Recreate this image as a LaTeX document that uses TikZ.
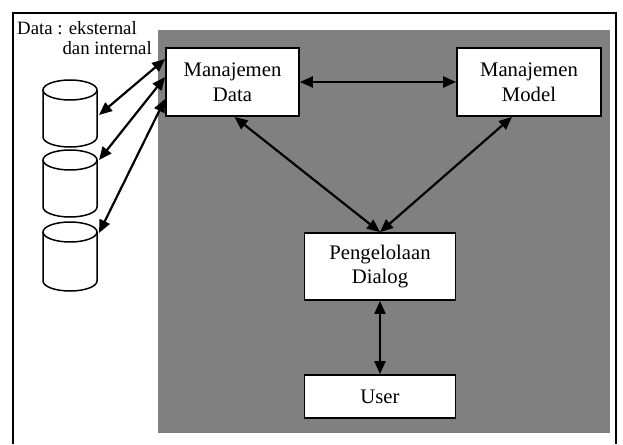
\documentclass[tikz,border=0pt]{standalone}
\usepackage{fontspec}
\setmainfont{Liberation Serif}
\usetikzlibrary{arrows.meta,calc}
\definecolor{bggray}{RGB}{128,128,128}
\tikzset{
  box/.style={draw=black, line width=1.8pt, fill=white, align=center,
    inner sep=0pt, font=\fontsize{20.7}{24.5}\selectfont},
  link/.style={line width=2.2pt, {Triangle[length=13pt,width=11pt]}-{Triangle[length=13pt,width=11pt]}},
  cyl/.style={draw=black, line width=1.5pt, fill=white},
  lbl/.style={inner sep=0pt, font=\fontsize{18.8}{22}\selectfont}
}
\begin{document}
\begin{tikzpicture}[x=1pt,y=-1pt]
\useasboundingbox (0,0) rectangle (623,444);
\draw[line width=2pt] (13,444) -- (13,13) -- (616,13) -- (616,444);
\fill[bggray] (158,30) rectangle (610,433);

\node[lbl, anchor=base west] (l1) at (17,35) {Data : eksternal};
\node[lbl, anchor=base east] (l2) at (152,55) {dan internal};

% cylinders
\foreach \t/\b in {80/147, 150/217, 222/291}{
  \draw[cyl] (43,\t+10) -- (43,\b-10) arc[start angle=180, end angle=0, x radius=27, y radius=10] -- (97,\t+10);
  \draw[cyl] (70,\t+10) ellipse[x radius=27, y radius=10];
}
\coordinate (c1) at (99,115);
\coordinate (c2) at (99,160);
\coordinate (c3) at (99,233);

\node[box, minimum width=133pt, minimum height=68pt] (data) at (232.5,82) {Manajemen\\Data};
\node[box, minimum width=144pt, minimum height=68pt] (model) at (529,82) {Manajemen\\Model};
\node[box, minimum width=151pt, minimum height=67pt] (dialog) at (380,266.5) {Pengelolaan\\Dialog};
\node[box, minimum width=151pt, minimum height=43pt] (user) at (380,396.5) {User};

\draw[link] (data.east) -- (model.west);
\draw[link] ($(data.south)+(2,0)$) -- (dialog.north);
\draw[link] ($(model.south)+(-17,0)$) -- (dialog.north);
\draw[link] (dialog.south) -- (user.north);

\draw[link] ($(data.west)+(0,-23)$) -- (c1);
\draw[link] ($(data.west)+(0,-5)$) -- (c2);
\draw[link] ($(data.west)+(0,17)$) -- (c3);
\end{tikzpicture}
\end{document}
